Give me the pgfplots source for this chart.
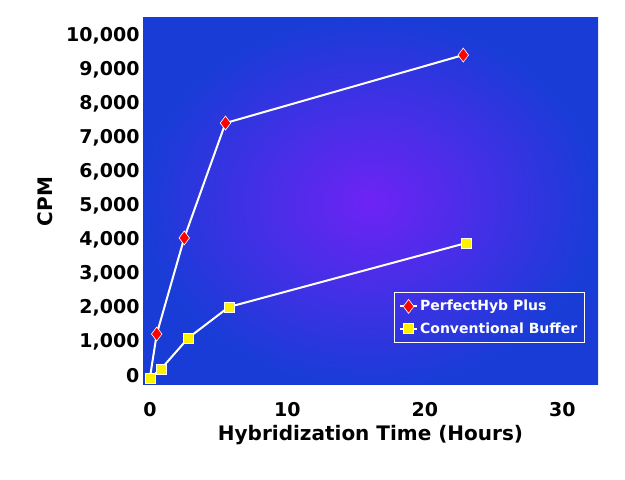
\documentclass[border=0pt]{standalone}
\usepackage{pgfplots}
\pgfplotsset{compat=1.18}
\usepackage{fontspec}
\setmainfont{DejaVu Sans}
\begin{document}
\begin{tikzpicture}[x=1pt,y=1pt]
\useasboundingbox (0,0) rectangle (625,480);
\begin{axis}[at={(143pt,95pt)},anchor=south west,scale only axis,width=455pt,height=367pt,
 xmin=-0.5,xmax=32.6,ymin=-265,ymax=10530,
 axis background/.style={inner color={rgb,255:red,110;green,35;blue,245},outer color={rgb,255:red,25;green,60;blue,215},shade},
 axis line style={draw=none},
 xtick={0,10,20,30},ytick={0,1000,...,10000},
 scaled y ticks=false,
 yticklabel style={/pgf/number format/.cd,fixed,1000 sep={,},assume math mode=true},
 xticklabel style={/pgf/number format/assume math mode=true,yshift=-14pt},
 tick style={draw=none},
 tick label style={font=\fontsize{19}{22}\selectfont\bfseries},
 xlabel={Hybridization Time (Hours)},ylabel={CPM},
 xlabel style={yshift=-2pt},
 ylabel style={yshift=6pt},
 label style={font=\fontsize{20}{24}\selectfont\bfseries},
 legend style={at={(0.97,0.115)},anchor=south east,fill=none,draw=white,text=white,font=\fontsize{14}{17}\selectfont\bfseries,row sep=6pt,inner xsep=5pt,inner ysep=6pt},
 legend cell align=left]
\addplot[white,line width=2pt,mark=diamond*,mark size=7pt,mark options={fill=red,draw=white,line width=0.6pt}] coordinates {(0.5,1235)(2.5,4060)(5.5,7440)(22.8,9440)};
\addlegendentry{PerfectHyb Plus}
\addplot[white,line width=2pt,mark=square*,mark size=5pt,mark options={fill=yellow,draw=white,line width=0.6pt}] coordinates {(0,-60)(0.8,200)(2.8,1120)(5.75,2030)(23,3910)};
\addlegendentry{Conventional Buffer}
\addplot[white,line width=2pt,forget plot] coordinates {(0,-60)(0.5,1235)};
\addplot[only marks,mark=square*,mark size=5pt,mark options={fill=yellow,draw=white,line width=0.6pt},forget plot] coordinates {(0,-60)};
\end{axis}
\end{tikzpicture}
\end{document}
